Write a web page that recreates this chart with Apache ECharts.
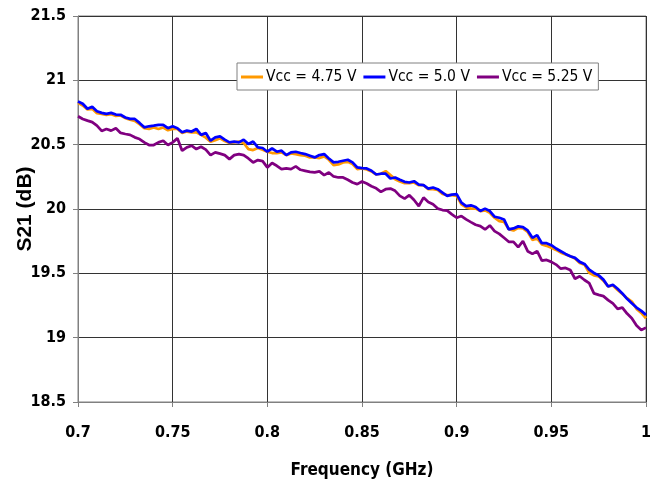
<!DOCTYPE html>
<html>
<head>
<meta charset="utf-8">
<script src="https://cdn.jsdelivr.net/npm/echarts@6/dist/echarts.min.js"></script>
<style>
html,body{margin:0;padding:0;background:#fff;}
#chart{width:650px;height:492px;}
</style>
</head>
<body>
<div id="chart"></div>
<script>
// Frequency sampling grid (GHz): 0.7 to 1.0, step 0.0025
var freqStart = 0.7, freqStep = 0.0025, freqCount = 121;
var freqs = [];
for (var i = 0; i < freqCount; i++) freqs.push(+(freqStart + i * freqStep).toFixed(4));

var seriesNames = ['Vcc = 4.75 V', 'Vcc = 5.0 V', 'Vcc = 5.25 V'];

var vcc475 = [20.825, 20.805, 20.774, 20.779, 20.745, 20.740, 20.732, 20.737, 20.724, 20.727, 20.706, 20.695, 20.685, 20.659, 20.628, 20.622, 20.633, 20.622, 20.633, 20.612, 20.622, 20.622, 20.591, 20.602, 20.596, 20.596, 20.576, 20.555, 20.523, 20.534, 20.550,
  20.529, 20.513, 20.518, 20.524, 20.513, 20.466, 20.458, 20.474, 20.461, 20.445, 20.435, 20.435, 20.440, 20.419, 20.432, 20.427, 20.419, 20.414, 20.401, 20.401, 20.396, 20.409, 20.383, 20.341, 20.346, 20.362, 20.367, 20.349, 20.310, 20.315,
  20.307, 20.292, 20.268, 20.274, 20.294, 20.263, 20.232, 20.214, 20.201, 20.201, 20.206, 20.185, 20.185, 20.154, 20.154, 20.148, 20.117, 20.107, 20.107, 20.102, 20.037, 20.013, 20.003, 20.003, 19.984, 19.990, 19.971, 19.932, 19.906, 19.900,
  19.844, 19.833, 19.854, 19.849, 19.823, 19.760, 19.771, 19.724, 19.714, 19.698, 19.682, 19.661, 19.646, 19.633, 19.615, 19.581, 19.568, 19.505, 19.484, 19.477, 19.443, 19.398, 19.406, 19.370, 19.339, 19.307, 19.281, 19.224, 19.193, 19.151];

var vcc500 = [20.836, 20.818, 20.779, 20.794, 20.760, 20.747, 20.740, 20.747, 20.734, 20.732, 20.711, 20.700, 20.700, 20.669, 20.635, 20.643, 20.648, 20.654, 20.654, 20.628, 20.643, 20.628, 20.596, 20.609, 20.602, 20.622, 20.576, 20.591, 20.531, 20.557, 20.565,
  20.539, 20.518, 20.524, 20.518, 20.539, 20.505, 20.524, 20.479, 20.474, 20.445, 20.471, 20.445, 20.453, 20.419, 20.440, 20.445, 20.435, 20.427, 20.414, 20.401, 20.419, 20.427, 20.393, 20.362, 20.367, 20.375, 20.383, 20.362, 20.323, 20.318,
  20.315, 20.297, 20.268, 20.274, 20.274, 20.237, 20.245, 20.227, 20.211, 20.206, 20.216, 20.190, 20.185, 20.159, 20.167, 20.154, 20.128, 20.102, 20.112, 20.115, 20.050, 20.023, 20.029, 20.016, 19.984, 20.003, 19.984, 19.940, 19.932, 19.919,
  19.841, 19.849, 19.865, 19.859, 19.833, 19.776, 19.797, 19.734, 19.734, 19.719, 19.693, 19.672, 19.651, 19.633, 19.620, 19.589, 19.573, 19.529, 19.503, 19.484, 19.451, 19.398, 19.411, 19.380, 19.344, 19.302, 19.268, 19.234, 19.208, 19.177];

var vcc525 = [20.721, 20.700, 20.687, 20.675, 20.648, 20.607, 20.622, 20.609, 20.628, 20.591, 20.583, 20.576, 20.557, 20.544, 20.518, 20.497, 20.497, 20.518, 20.531, 20.497, 20.518, 20.549, 20.453, 20.479, 20.492, 20.466, 20.484, 20.461, 20.419, 20.440, 20.430,
  20.419, 20.388, 20.419, 20.427, 20.419, 20.393, 20.362, 20.380, 20.372, 20.323, 20.357, 20.336, 20.310, 20.315, 20.310, 20.331, 20.305, 20.297, 20.289, 20.284, 20.292, 20.263, 20.284, 20.253, 20.245, 20.245, 20.227, 20.206, 20.193, 20.214,
  20.198, 20.177, 20.161, 20.133, 20.154, 20.159, 20.141, 20.102, 20.081, 20.107, 20.070, 20.023, 20.089, 20.055, 20.037, 20.003, 19.992, 19.987, 19.958, 19.932, 19.945, 19.919, 19.898, 19.878, 19.867, 19.841, 19.872, 19.828, 19.807, 19.776,
  19.745, 19.745, 19.703, 19.750, 19.672, 19.651, 19.672, 19.599, 19.604, 19.589, 19.568, 19.536, 19.542, 19.526, 19.458, 19.477, 19.448, 19.424, 19.344, 19.333, 19.323, 19.292, 19.266, 19.224, 19.234, 19.187, 19.151, 19.094, 19.060, 19.078];

var xTickLabels = ['0.7', '0.75', '0.8', '0.85', '0.9', '0.95', '1'];
var yTickLabels = ['18.5', '19', '19.5', '20', '20.5', '21', '21.5'];

function pairs(vals) { return freqs.map(function (f, i) { return [f, vals[i]]; }); }

var NARROW = "'DejaVu Sans Condensed', 'Liberation Sans', sans-serif";
var colors = ['#FF9900', '#0000FF', '#800080'];
var allVals = [vcc475, vcc500, vcc525];

var chart = echarts.init(document.getElementById('chart'), null, {renderer: 'canvas'});
chart.setOption({
  animation: false,
  backgroundColor: '#ffffff',
  grid: {left: 78, right: 4, top: 16, bottom: 90, show: true, borderColor: '#808080', borderWidth: 1,
         containLabel: false, outerBoundsMode: 'none'},
  legend: {
    left: 237, top: 63,
    padding: [6, 6, 5, 4],
    itemGap: 7, itemWidth: 22, itemHeight: 3,
    backgroundColor: '#ffffff', borderColor: '#808080', borderWidth: 1,
    icon: 'rect',
    textStyle: {fontFamily: NARROW, fontSize: 15.5, color: '#000', padding: [0, 0, 0, -2]},
    data: seriesNames
  },
  xAxis: {
    type: 'value', min: 0.7, max: 1.0, interval: 0.05,
    name: 'Frequency (GHz)', nameLocation: 'middle', nameGap: 60, nameMoveOverlap: false,
    nameTextStyle: {fontFamily: NARROW, fontSize: 17, fontWeight: 'bold', color: '#000'},
    axisLine: {lineStyle: {color: '#808080'}},
    axisTick: {show: true, length: 5, lineStyle: {color: '#808080'}},
    axisLabel: {margin: 23, fontFamily: NARROW, fontSize: 16, fontWeight: 'bold', color: '#000',
      formatter: function (v) { return xTickLabels[Math.round((v - 0.7) / 0.05)]; }},
    splitLine: {show: true, lineStyle: {color: '#333', width: 1}}
  },
  yAxis: {
    type: 'value', min: 18.5, max: 21.5, interval: 0.5,
    name: 'S21 (dB)', nameLocation: 'middle', nameGap: 42, nameRotate: 90, nameMoveOverlap: false,
    nameTextStyle: {fontFamily: "'Liberation Sans', Arial, sans-serif", fontSize: 21, fontWeight: 'bold', color: '#000'},
    axisLine: {show: true, lineStyle: {color: '#808080'}},
    axisTick: {show: true, length: 5, lineStyle: {color: '#808080'}},
    axisLabel: {margin: 12, fontFamily: NARROW, fontSize: 16, fontWeight: 'bold', color: '#000',
      formatter: function (v) { return yTickLabels[Math.round((v - 18.5) / 0.5)]; }},
    splitLine: {show: true, lineStyle: {color: '#333', width: 1}}
  },
  series: seriesNames.map(function (n, k) {
    return {
      name: n, type: 'line', data: pairs(allVals[k]),
      showSymbol: false, symbol: 'none',
      lineStyle: {color: colors[k], width: 2.75},
      itemStyle: {color: colors[k]},
      z: 2 + k
    };
  })
});
</script>
</body>
</html>
